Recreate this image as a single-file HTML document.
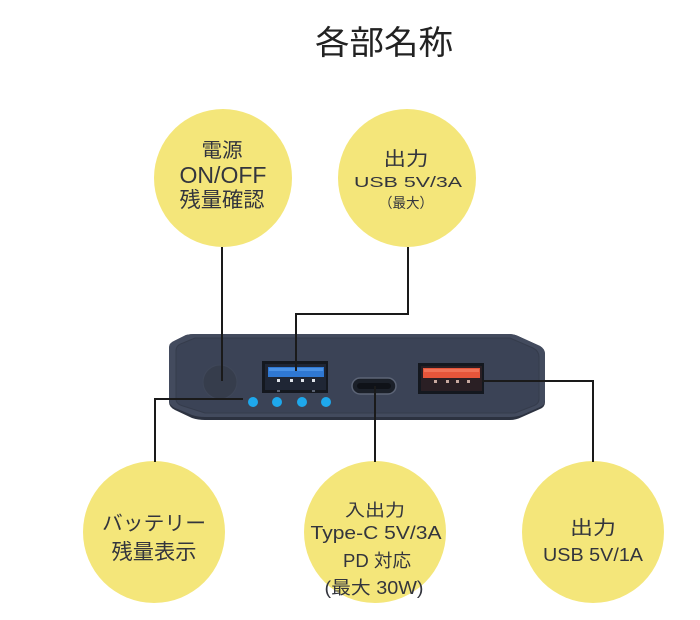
<!DOCTYPE html>
<html>
<head>
<meta charset="utf-8">
<style>
  html,body{margin:0;padding:0;background:#fff;}
  body{width:700px;height:620px;overflow:hidden;}
  svg{display:block;}
  text{font-family:"Liberation Sans","Noto Sans CJK JP",sans-serif;fill:#33353d;}
</style>
</head>
<body>
<svg width="700" height="620" viewBox="0 0 700 620" xmlns="http://www.w3.org/2000/svg">
  <rect x="0" y="0" width="700" height="620" fill="#ffffff"/>

  <!-- Title -->
  <text x="384" y="54" font-size="33" text-anchor="middle" textLength="138" lengthAdjust="spacingAndGlyphs" style="fill:#222">各部名称</text>

  <!-- Circles -->
  <g fill="#f4e67a">
    <circle cx="223" cy="178" r="69"/>
    <circle cx="407" cy="178" r="69"/>
    <circle cx="154" cy="532" r="71"/>
    <circle cx="375" cy="532" r="71"/>
    <circle cx="593" cy="532" r="71"/>
  </g>

  <!-- Top-left text -->
  <text x="222" y="157" font-size="20" text-anchor="middle" textLength="41" lengthAdjust="spacingAndGlyphs">電源</text>
  <text x="223" y="183" font-size="23" text-anchor="middle" textLength="87" lengthAdjust="spacingAndGlyphs">ON/OFF</text>
  <text x="222" y="207" font-size="21" text-anchor="middle" textLength="85" lengthAdjust="spacingAndGlyphs">残量確認</text>

  <!-- Top-right text -->
  <text x="406" y="165" font-size="19" text-anchor="middle" textLength="45" lengthAdjust="spacingAndGlyphs">出力</text>
  <text x="408" y="187" font-size="15" text-anchor="middle" textLength="108" lengthAdjust="spacingAndGlyphs">USB  5V/3A</text>
  <text x="406" y="208" font-size="14" text-anchor="middle" textLength="54" lengthAdjust="spacingAndGlyphs">（最大）</text>

  <!-- Bottom-left text -->
  <text x="154" y="530" font-size="20" text-anchor="middle" textLength="104" lengthAdjust="spacingAndGlyphs">バッテリー</text>
  <text x="154" y="559" font-size="21" text-anchor="middle" textLength="85" lengthAdjust="spacingAndGlyphs">残量表示</text>

  <!-- Bottom-middle text -->
  <text x="375" y="516" font-size="17" text-anchor="middle" textLength="60" lengthAdjust="spacingAndGlyphs">入出力</text>
  <text x="376" y="539" font-size="18" text-anchor="middle" textLength="131" lengthAdjust="spacingAndGlyphs">Type-C 5V/3A</text>
  <text x="377" y="567" font-size="18" text-anchor="middle" textLength="68" lengthAdjust="spacingAndGlyphs">PD 対応</text>
  <text x="374" y="594" font-size="18" text-anchor="middle" textLength="99" lengthAdjust="spacingAndGlyphs">(最大 30W)</text>

  <!-- Bottom-right text -->
  <text x="593" y="534" font-size="19" text-anchor="middle" textLength="46" lengthAdjust="spacingAndGlyphs">出力</text>
  <text x="593" y="561" font-size="18" text-anchor="middle" textLength="100" lengthAdjust="spacingAndGlyphs">USB 5V/1A</text>

  <!-- Device body -->
  <path d="M169 348 Q169 343 174 341 L186 335 Q190 334 195 334 L508 334 Q514 334 518 336 L540 346 Q545 349 545 354 L545 402 Q545 407 540 409 L522 417 Q516 420 510 420 L205 420 Q198 420 192 418 L175 410 Q169 407 169 402 Z" fill="#2c3240"/>
  <path d="M169 348 Q169 343 174 341 L186 335 Q190 334 195 334 L508 334 Q514 334 518 336 L540 346 Q545 349 545 354 L545 400 Q545 405 540 407 L522 415 Q516 417 510 417 L205 417 Q198 417 192 415 L175 408 Q169 405 169 400 Z" fill="#434b5e"/>
  <path d="M176 351 Q176 345 183 343 L195 338 L510 338 L533 348 Q539 351 539 357 L539 399 Q539 404 533 406 L515 413 L205 413 L183 406 Q176 404 176 399 Z" fill="#3b4356" stroke="#353c4c" stroke-width="1"/>

  <!-- Power button -->
  <circle cx="220" cy="382" r="17" fill="#363d4c" stroke="#3f4759" stroke-width="1"/>

  <!-- Blue USB port -->
  <rect x="262" y="361" width="66" height="32" fill="#14181f"/>
  <rect x="265" y="364" width="61" height="26" fill="#1f2635"/>
  <rect x="268" y="367" width="56" height="10" fill="#2f78d3"/>
  <rect x="269" y="368" width="54" height="3" fill="#4a92e6"/>
  <g fill="#dfe3ea">
    <rect x="277" y="379" width="3" height="3"/>
    <rect x="290" y="379" width="3" height="3"/>
    <rect x="301" y="379" width="3" height="3"/>
    <rect x="312" y="379" width="3" height="3"/>
  </g>
  <g fill="#5a6272">
    <rect x="277" y="390" width="3" height="2"/>
    <rect x="312" y="390" width="3" height="2"/>
  </g>

  <!-- Type-C port -->
  <rect x="352" y="378" width="44" height="16" rx="8" fill="#1b2029" stroke="#5c6476" stroke-width="1.5"/>
  <rect x="357" y="383" width="34" height="6" rx="3" fill="#0f1218"/>

  <!-- Red USB port -->
  <rect x="418" y="363" width="66" height="31" fill="#14181f"/>
  <rect x="421" y="366" width="61" height="25" fill="#2a1f24"/>
  <rect x="423" y="368" width="57" height="10" fill="#e6553a"/>
  <rect x="424" y="369" width="55" height="3" fill="#f07257"/>
  <g fill="#c8a9a0">
    <rect x="434" y="380" width="3" height="3"/>
    <rect x="446" y="380" width="3" height="3"/>
    <rect x="456" y="380" width="3" height="3"/>
    <rect x="467" y="380" width="3" height="3"/>
  </g>

  <!-- LEDs -->
  <g fill="#1ea8ec">
    <circle cx="253" cy="402" r="5"/>
    <circle cx="277" cy="402" r="5"/>
    <circle cx="302" cy="402" r="5"/>
    <circle cx="326" cy="402" r="5"/>
  </g>

  <!-- Connector lines -->
  <g fill="none" stroke="#1a1a1a" stroke-width="2" stroke-linejoin="miter">
    <path d="M222 247 V381"/>
    <path d="M408 247 V314 H296 V371"/>
    <path d="M243 399 H155 V462"/>
    <path d="M375 386 V462"/>
    <path d="M482 381 H593 V462"/>
  </g>
</svg>
</body>
</html>
